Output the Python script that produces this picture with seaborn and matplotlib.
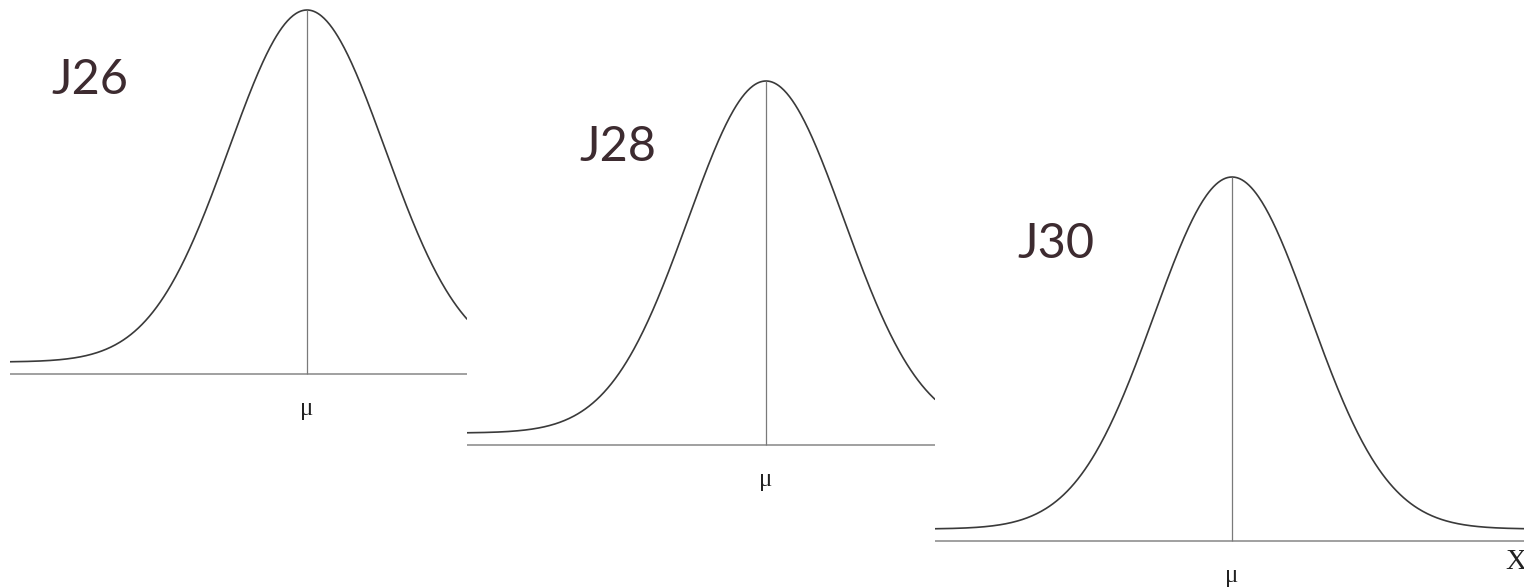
import numpy as np
import matplotlib.pyplot as plt
import seaborn as sns

# chart content
labels = ["J26", "J28", "J30"]
means = [0.0, 0.0, 0.0]
sds = [1.0, 1.0, 1.0]
mean_label = "μ"
axis_label = "X"

W, H = 1524, 587
sns.set_style("white")
fig = plt.figure(figsize=(W / 100, H / 100), dpi=100)

# panel layout in pixels: left edge, right edge, mean x, axis line y
panels = [(10, 467, 307, 374), (467, 935, 766, 445), (935, 1524, 1232, 541)]
label_pos = [(90, 80), (618, 147), (1056, 244)]
px_sd = 78      # pixels per standard deviation
px_peak = 352   # height of the density peak in pixels
px_gap = 12     # tails sit a bit above the axis line

for i, (x0, x1, xm, yb) in enumerate(panels):
    ax = fig.add_axes([x0 / W, 0, (x1 - x0) / W, 1])
    ax.set_axis_off()
    mu, sd = means[i], sds[i]
    x = np.linspace(mu + (x0 - xm) / px_sd * sd, mu + (x1 - xm) / px_sd * sd, 500)
    dens = np.exp(-0.5 * ((x - mu) / sd) ** 2) / (sd * np.sqrt(2 * np.pi))
    peak = 1 / (sd * np.sqrt(2 * np.pi))
    unit = peak / px_peak
    base = -px_gap * unit

    sns.lineplot(x=x, y=dens, ax=ax, color="#3a3a3a", linewidth=1.2)
    ax.axhline(base, color="#a0a0a0", linewidth=1.4)
    ax.vlines(mu, base, peak, color="#7a7a7a", linewidth=0.9)
    ax.text(mu, base - 35 * unit, mean_label, ha="center", va="center",
            family="Liberation Serif", fontsize=18, color="#222222")

    ax.set_xlim(x[0], x[-1])
    ax.set_ylim((yb - px_gap - H) * unit, (yb - px_gap) * unit)

    lx, ly = label_pos[i]
    fig.text(lx / W, 1 - ly / H, labels[i], ha="center", va="center",
             family="Lato", fontsize=35, color="#3d2b30")

fig.text(1505 / W, 1 - 562 / H, axis_label, ha="left", va="center",
         family="Liberation Serif", fontsize=21, color="#222222")

plt.savefig("out.png", dpi=100)
plt.close()
